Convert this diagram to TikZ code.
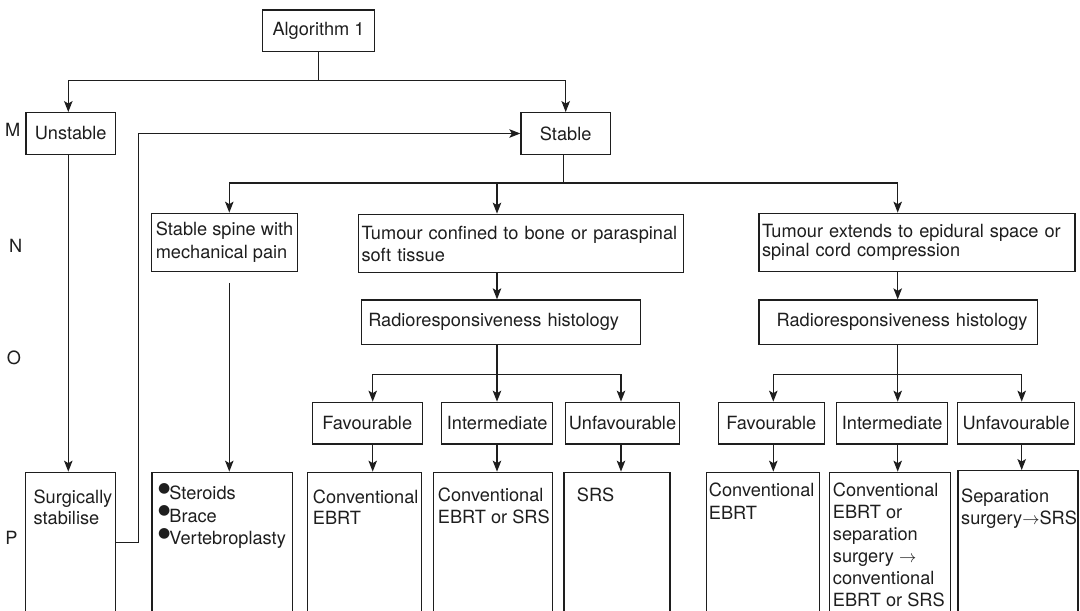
\documentclass[tikz,border=0pt]{standalone}
\usepackage{fontspec}
\setmainfont{TeX Gyre Heros}
\newfontfamily\djv{DejaVu Sans}
\usetikzlibrary{arrows.meta}
\definecolor{ink}{HTML}{1E1E1E}
\newcommand\bul{\raisebox{7.5pt}{\djv\fontsize{14}{14}\selectfont ●}\hspace{-1pt}}
\begin{document}
\begin{tikzpicture}[x=1pt,y=-1pt,
  every node/.style={font=\fontsize{18.2}{22}\selectfont, text=ink},
  box/.style={draw=ink, line width=1.3pt, inner sep=0pt, rectangle},
  lbl/.style={inner sep=0pt, anchor=base west, align=left},
  conn/.style={draw=ink, line width=1.3pt},
  arr/.style={conn, -{Stealth[length=11pt,width=8.5pt,inset=2.5pt]}}
]
\useasboundingbox (0,0) rectangle (1080,611);
\clip (0,0) rectangle (1080,611);

% side letters
\node (lM) at (12.7,130) {M};
\node (lN) at (15.7,245.7) {N};
\node (lO) at (14,357.7) {O};
\node (lP) at (11.4,538.3) {P};

% top
\node[box, minimum width=111.6pt, minimum height=41.7pt] (alg) at (318.5,30.85) {Algorithm 1};
\node[box, minimum width=89.3pt, minimum height=41.6pt] (unst) at (70.65,133.5) {Unstable};
\node[box, minimum width=89.3pt, minimum height=41.6pt] (stab) at (565.65,133.5) {Stable};

% N row
\node[box, minimum width=145.6pt, minimum height=58.4pt, align=left,
      font=\fontsize{18.2}{23}\selectfont] (ssp) at (224.5,242.5)
  {Stable spine with\\mechanical pain};
\node[box, minimum width=325pt, minimum height=58.4pt, inner xsep=3pt, text width=319pt, align=left,
      font=\fontsize{18.2}{22}\selectfont] (tc) at (521,243.5)
  {Tumour confined to bone or paraspinal\\soft tissue};
\node[box, minimum width=316pt, minimum height=58.4pt, inner xsep=3pt, text width=310pt, align=left,
      font=\fontsize{18.2}{19}\selectfont] (te) at (917,242.5)
  {Tumour extends to epidural space or\\spinal cord compression};

% O row
\node[box, minimum width=279pt, minimum height=44.3pt, inner xsep=6.6pt, text width=265.8pt, align=left] (r1) at (501.2,322.15)
  {Radioresponsiveness histology};
\node[box, minimum width=278.3pt, minimum height=44.3pt, inner xsep=4pt, text width=270.3pt, align=left] (r2) at (898.15,322.15)
  {\hspace*{13.7pt}Radioresponsiveness histology};

% categories
\node[box, minimum width=110pt, minimum height=41.7pt] (f1) at (367.3,423.15) {Favourable};
\node[box, minimum width=111pt, minimum height=41.7pt] (i1) at (497.2,423.15) {Intermediate};
\node[box, minimum width=113.6pt, minimum height=41.7pt] (u1) at (622.5,423.15) {Unfavourable};
\node[box, minimum width=106pt, minimum height=41.7pt] (f2) at (771.3,423.15) {Favourable};
\node[box, minimum width=111pt, minimum height=41.7pt] (i2) at (892.2,423.15) {Intermediate};
\node[box, minimum width=117pt, minimum height=41.7pt] (u2) at (1016.2,423.15) {Unfavourable};

% bottom boxes (run off the page)
\node[box, minimum width=89.6pt, minimum height=200pt] (surg) at (70.6,572.3) {};
\node[box, minimum width=140.5pt, minimum height=200pt] (ster) at (222.15,572.3) {};
\node[box, minimum width=114.6pt, minimum height=200pt] (ce1) at (364.5,572.3) {};
\node[box, minimum width=119.4pt, minimum height=200pt] (ce2) at (493,572.3) {};
\node[box, minimum width=106pt, minimum height=200pt] (srs1) at (617,572.3) {};
\node[box, minimum width=113pt, minimum height=200pt] (ce3) at (762.8,572.3) {};
\node[box, minimum width=121.2pt, minimum height=200pt] (ce4) at (889.9,572.3) {};
\node[box, minimum width=120pt, minimum height=200pt] (sep) at (1018,570.7) {};

% bottom texts (anchor = baseline of the last line)
\node[lbl, font=\fontsize{18.2}{21}\selectfont] (surgT) at (33.4,524.2) {Surgically\\stabilise};
\node[lbl, font=\fontsize{18.2}{22.5}\selectfont] (sterT) at (158.0,544.8) {\bul Steroids\\\bul Brace\\\bul Vertebroplasty};
\node[lbl, font=\fontsize{18.2}{21}\selectfont] (ce1T) at (312.7,524.2) {Conventional\\EBRT};
\node[lbl, font=\fontsize{18.2}{22.3}\selectfont] (ce2T) at (437.7,523.8) {Conventional\\EBRT or SRS};
\node[lbl] (srs1T) at (576.7,501.5) {SRS};
\node[lbl, font=\fontsize{18.2}{23}\selectfont] (ce3T) at (708.7,519.5) {Conventional\\EBRT};
\node[lbl, font=\fontsize{18.2}{22}\selectfont] (ce4T) at (832.7,606.5)
  {Conventional\\EBRT or\\separation\\surgery $\rightarrow$\\conventional\\EBRT or SRS};
\node[lbl, font=\fontsize{18.2}{22.3}\selectfont] (sepT) at (961,524.8) {Separation\\surgery$\rightarrow$SRS};

% connectors: top
\coordinate (jU) at (68.3,80.7);
\coordinate (jS) at (565.7,80.7);
\draw[conn] (alg.south) -- (alg.south |- jU);
\draw[arr] (alg.south |- jU) -- (jU) -- (jU |- unst.north);
\draw[arr] (alg.south |- jU) -- (jS) -- (jS |- stab.north);
\draw[arr] (unst.south -| jU) -- (surg.north -| jU);

% feedback from surgical stabilisation to stable
\coordinate (fb) at (138.5,542.3);
\draw[arr] (surg.east |- fb) -- (fb) |- (stab.west);

% stable branches
\coordinate (j1) at (563.7,183);
\coordinate (b1) at (229.3,183);
\coordinate (b2) at (497,183);
\coordinate (b3) at (897.7,183);
\draw[conn] (stab.south -| j1) -- (j1);
\draw[arr] (b2) -- (b1) -- (b1 |- ssp.north);
\draw[arr] (b2) -- (b3) -- (b3 |- te.north);
\draw[arr] (b2) -- (b2 |- tc.north);

% stable spine -> steroids
\draw[arr] (ssp.south -| b1) ++(0,10.6) -- (ster.north -| b1);

% tumour -> radio
\draw[arr] (tc.south -| b2) -- (r1.north -| b2);
\draw[arr] (te.south -| b3) -- (r2.north -| b3);

% radio -> categories
\coordinate (h1) at (497,374.3);
\coordinate (h1l) at (372.7,374.3);
\coordinate (h1r) at (621,374.3);
\coordinate (h2) at (897.7,374.3);
\coordinate (h2l) at (773.3,374.3);
\coordinate (h2r) at (1021.7,374.3);
\draw[arr] (r1.south -| h1) -- (i1.north -| h1);
\draw[arr] (h1) -- (h1l) -- (h1l |- f1.north);
\draw[arr] (h1) -- (h1r) -- (h1r |- u1.north);
\draw[arr] (r2.south -| h2) -- (i2.north -| h2);
\draw[arr] (h2) -- (h2l) -- (h2l |- f2.north);
\draw[arr] (h2) -- (h2r) -- (h2r |- u2.north);

% categories -> treatments
\draw[arr] (f1.south -| h1l) -- (ce1.north -| h1l);
\draw[arr] (i1.south -| h1) -- (ce2.north -| h1);
\draw[arr] (u1.south -| h1r) -- (srs1.north -| h1r);
\draw[arr] (f2.south -| h2l) -- (ce3.north -| h2l);
\draw[arr] (i2.south -| h2) -- (ce4.north -| h2);
\draw[arr] (u2.south -| h2r) -- (sep.north -| h2r);
\end{tikzpicture}
\end{document}
